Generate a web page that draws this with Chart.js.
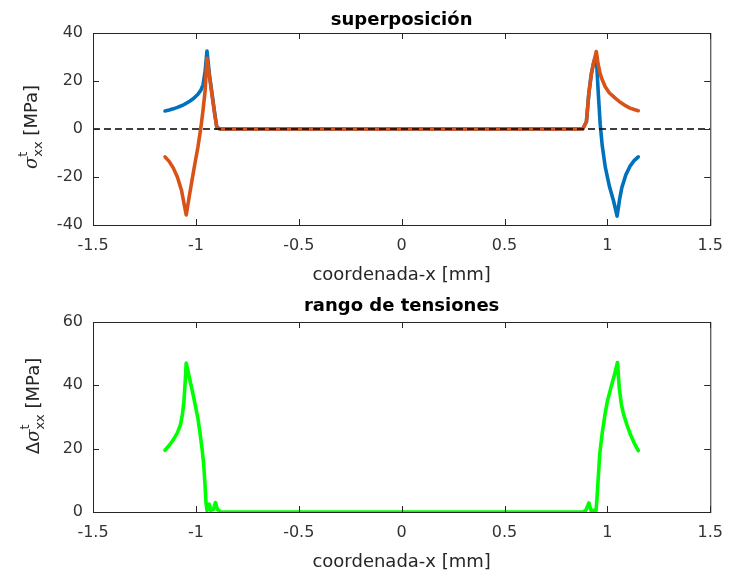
<!DOCTYPE html>
<html lang="es">
<head>
  <meta charset="UTF-8" />
  <title>superposición - rango de tensiones</title>
  <script src="https://cdn.jsdelivr.net/npm/chart.js"></script>
  <style>
    body {
      margin: 0;
      background: #ffffff;
    }
    .panel {
      position: absolute;
      left: 0;
      width: 734px;
    }
    #topPanel { top: 0; height: 290px; }
    #bottomPanel { top: 290px; height: 287px; }
  </style>
</head>
<body>
  <div class="panel" id="topPanel"><canvas id="supChart" width="734" height="290"></canvas></div>
  <div class="panel" id="bottomPanel"><canvas id="rangeChart" width="734" height="287"></canvas></div>

  <script>
    // Tick values
    const xTicks = [-1.5, -1, -0.5, 0, 0.5, 1, 1.5];
    const yTicksTop = [-40, -20, 0, 20, 40];
    const yTicksBottom = [0, 20, 40, 60];

    // superposición: x-coordinate [mm] and sigma_xx^t [MPa]
    const xSup = [-1.15, -1.13, -1.11, -1.09, -1.07, -1.06, -1.047, -1.03, -1.01, -0.99,
                  -0.975, -0.965, -0.955, -0.946, -0.934, -0.922, -0.91, -0.898, -0.88,
                  0.88, 0.898, 0.91, 0.922, 0.934, 0.946, 0.955, 0.965, 0.975, 0.99,
                  1.01, 1.03, 1.047, 1.06, 1.07, 1.09, 1.11, 1.13, 1.15];
    const sigmaBlue = [7.5, 7.9, 8.4, 9.0, 9.7, 10.1, 10.7, 11.6, 12.8, 14.5,
                       16.3, 18.5, 24.0, 32.5, 22.5, 15.0, 7.5, 0.5, 0,
                       0, 3.0, 15.0, 23.0, 28.0, 30.5, 16.0, 2.0, -7.0, -16.0,
                       -24.0, -30.0, -36.3, -29.0, -24.5, -19.0, -15.5, -13.2, -11.6];
    const sigmaOrange = [-11.6, -13.5, -16.2, -20.0, -25.5, -30.0, -35.8, -27.0, -17.0, -7.5,
                         1.0, 8.0, 16.0, 29.5, 22.0, 14.5, 7.0, 0.5, 0,
                         0, 3.0, 15.0, 23.0, 28.0, 32.3, 27.0, 23.0, 20.5, 17.5,
                         15.0, 13.5, 12.2, 11.3, 10.7, 9.6, 8.7, 8.1, 7.6];
    const zeroLineX = [-1.5, 1.5];
    const zeroLineY = [0, 0];

    // rango de tensiones: delta sigma_xx^t [MPa]
    const xRange = [-1.15, -1.13, -1.11, -1.09, -1.075, -1.065, -1.058, -1.052, -1.047, -1.03,
                    -1.01, -0.99, -0.978, -0.97, -0.962, -0.956, -0.951, -0.946, -0.935, -0.928,
                    -0.915, -0.905, -0.895, -0.88,
                    0.88, 0.895, 0.91, 0.92, 0.935, 0.945, 0.95, 0.963, 0.975, 0.99,
                    1.0, 1.02, 1.035, 1.049, 1.058, 1.068, 1.078, 1.095, 1.11, 1.13, 1.15];
    const deltaSigma = [19.5, 21.0, 22.8, 25.0, 27.5, 31.0, 35.0, 41.0, 47.0, 42.0,
                        36.0, 29.5, 24.0, 20.0, 15.0, 9.0, 3.0, 0.5, 2.5, 0.5,
                        0.8, 3.0, 0.8, 0,
                        0, 0.5, 2.9, 0.5, 0.5, 0.5, 5.0, 18.5, 25.0, 31.5,
                        35.0, 40.0, 43.5, 47.2, 39.0, 34.0, 31.0, 27.5, 24.8, 21.8, 19.4];

    const toPoints = (xs, ys) => xs.map((x, i) => ({ x: x, y: ys[i] }));

    // y label like sigma^t_xx [MPa], rotated
    function drawYLabel(ctx, parts, bx, cy) {
      const mainFont = '18px "DejaVu Sans"';
      const symFont = 'italic 18px "DejaVu Serif"';
      const smallFont = '13px "DejaVu Sans"';
      let w = 0;
      parts.forEach(p => {
        if (p.sup !== undefined) {
          ctx.font = smallFont;
          p.w = Math.max(ctx.measureText(p.sup).width, ctx.measureText(p.sub).width);
        } else {
          ctx.font = p.sym ? symFont : mainFont;
          p.w = ctx.measureText(p.text).width;
        }
        w += p.w;
      });
      ctx.save();
      ctx.translate(bx, cy);
      ctx.rotate(-Math.PI / 2);
      ctx.textAlign = 'left';
      ctx.textBaseline = 'alphabetic';
      let x = -w / 2;
      parts.forEach(p => {
        if (p.sup !== undefined) {
          ctx.font = smallFont;
          ctx.fillText(p.sup, x, -10);
          ctx.fillText(p.sub, x, 5);
        } else {
          ctx.font = p.sym ? symFont : mainFont;
          ctx.fillText(p.text, x, 0);
        }
        x += p.w;
      });
      ctx.restore();
    }

    // MATLAB style box, inward ticks, title and axis labels
    const axesBox = {
      id: 'axesBox',
      afterDraw(chart, args, opts) {
        const { ctx, chartArea: a, scales } = chart;
        ctx.save();
        ctx.strokeStyle = '#262626';
        ctx.lineWidth = 1;
        ctx.strokeRect(a.left + 0.5, a.top + 0.5, a.right - a.left, a.bottom - a.top);
        ctx.beginPath();
        scales.x.ticks.forEach(t => {
          const px = Math.round(scales.x.getPixelForValue(t.value)) + 0.5;
          ctx.moveTo(px, a.bottom); ctx.lineTo(px, a.bottom - 6);
          ctx.moveTo(px, a.top); ctx.lineTo(px, a.top + 6);
        });
        scales.y.ticks.forEach(t => {
          const py = Math.round(scales.y.getPixelForValue(t.value)) + 0.5;
          ctx.moveTo(a.left, py); ctx.lineTo(a.left + 6, py);
          ctx.moveTo(a.right, py); ctx.lineTo(a.right - 6, py);
        });
        ctx.stroke();

        const cx = (a.left + a.right) / 2;
        ctx.textAlign = 'center';
        ctx.textBaseline = 'alphabetic';
        ctx.fillStyle = '#000000';
        ctx.font = 'bold 18px "DejaVu Sans"';
        ctx.fillText(opts.title, cx, a.top - opts.titleGap);

        ctx.fillStyle = '#262626';
        ctx.font = '18px "DejaVu Sans"';
        ctx.fillText(opts.xLabel, cx, a.bottom + 55);

        drawYLabel(ctx, opts.yLabel, opts.yLabelX, opts.yLabelY);
        ctx.restore();
      }
    };

    const tickFont = { family: 'DejaVu Sans', size: 16 };

    function xScale(height) {
      return {
        type: 'linear',
        min: -1.5,
        max: 1.5,
        grid: { display: false, drawTicks: false },
        border: { display: false },
        ticks: { padding: 11, font: tickFont, color: '#333333', maxRotation: 0, autoSkip: false,
                 callback: v => String(v) },
        afterBuildTicks: s => { s.ticks = xTicks.map(v => ({ value: v })); },
        afterFit: s => { s.height = height; }
      };
    }

    function yScale(min, max, ticks) {
      return {
        type: 'linear',
        min: min,
        max: max,
        grid: { display: false, drawTicks: false },
        border: { display: false },
        ticks: { padding: 10, font: tickFont, color: '#333333', autoSkip: false,
                 callback: v => String(v) },
        afterBuildTicks: s => { s.ticks = ticks.map(v => ({ value: v })); },
        afterFit: s => { s.width = 93; }
      };
    }

    const common = {
      responsive: false,
      animation: false,
      devicePixelRatio: 1,
      elements: {
        point: { radius: 0 },
        line: { tension: 0, borderJoinStyle: 'round', borderCapStyle: 'round' }
      }
    };

    // Top: superposición
    new Chart(document.getElementById('supChart'), {
      type: 'line',
      data: {
        datasets: [
          { data: toPoints(zeroLineX, zeroLineY), borderColor: '#000000', borderWidth: 1.3, borderDash: [7, 4], borderCapStyle: 'butt' },
          { data: toPoints(xSup, sigmaOrange), borderColor: '#D95319', borderWidth: 3.6 },
          { data: toPoints(xSup, sigmaBlue), borderColor: '#0072BD', borderWidth: 3.6 }
        ]
      },
      options: {
        ...common,
        layout: { padding: { top: 33, right: 16, left: 0, bottom: 0 } },
        plugins: {
          legend: { display: false },
          tooltip: { enabled: false },
          axesBox: {
            title: 'superposición',
            titleGap: 8,
            xLabel: 'coordenada-x [mm]',
            yLabel: [{ text: 'σ', sym: true }, { sup: 't', sub: 'xx' }, { text: ' [MPa]' }],
            yLabelX: 37,
            yLabelY: 127
          }
        },
        scales: { x: xScale(65), y: yScale(-40, 40, yTicksTop) }
      },
      plugins: [axesBox]
    });

    // Bottom: rango de tensiones
    new Chart(document.getElementById('rangeChart'), {
      type: 'line',
      data: {
        datasets: [
          { data: toPoints(xRange, deltaSigma), borderColor: '#00FF00', borderWidth: 3.6 }
        ]
      },
      options: {
        ...common,
        layout: { padding: { top: 32, right: 16, left: 0, bottom: 0 } },
        plugins: {
          legend: { display: false },
          tooltip: { enabled: false },
          axesBox: {
            title: 'rango de tensiones',
            titleGap: 11,
            xLabel: 'coordenada-x [mm]',
            yLabel: [{ text: 'Δ' }, { text: 'σ', sym: true }, { sup: 't', sub: 'xx' }, { text: ' [MPa]' }],
            yLabelX: 39,
            yLabelY: 116
          }
        },
        scales: { x: xScale(65), y: yScale(0, 60, yTicksBottom) }
      },
      plugins: [axesBox]
    });
  </script>
</body>
</html>
